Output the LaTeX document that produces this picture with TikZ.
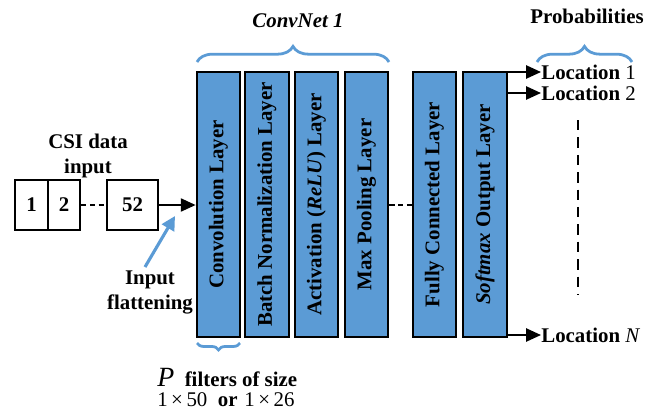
\documentclass[tikz,border=0pt]{standalone}
\usepackage{fontspec}
\setmainfont{Liberation Serif}
\usetikzlibrary{arrows.meta,decorations.pathreplacing}
\definecolor{layerblue}{HTML}{5B9BD5}
\tikzset{
    layer/.style={draw, line width=1.3pt, fill=layerblue, minimum width=25pt,
        minimum height=152.4pt, inner sep=0pt},
    layertext/.style={rotate=90, font=\bfseries\fontsize{12}{14}\selectfont},
    inbox/.style={draw, line width=1.3pt, minimum height=28.7pt, inner sep=0pt,
        font=\bfseries\fontsize{12}{14}\selectfont},
    lbl/.style={font=\bfseries\fontsize{12}{14.4}\selectfont, align=center},
    flow/.style={line width=1.1pt, -{Triangle[length=8.5pt,width=7.5pt]}},
    bluebrace/.style={draw=layerblue, line width=1.6pt, decoration={brace, amplitude=#1}, decorate},
}
\begin{document}
\begin{tikzpicture}[x=0.575pt, y=-0.575pt]
    \useasboundingbox (0,0) rectangle (660,414);

    % CSI input vector
    \node[inbox, minimum width=19pt] (in1) at (31.5,205) {1};
    \node[inbox, minimum width=18.4pt] (in2) at (64,205) {2};
    \node[inbox, minimum width=29.3pt] (in52) at (132.5,205) {52};
    \draw[line width=1.3pt, dash pattern=on 3pt off 2pt] (in2) -- (in52);
    \node[lbl] (csi) at (88,156) {CSI data\\input};

    % ConvNet 1 layers
    \node[layer] (conv) at (218.5,204.5) {};
    \node[layertext] at (conv) {Convolution Layer};
    \node[layer] (bn) at (267,204.5) {};
    \node[layertext] at (bn) {Batch Normalization Layer};
    \node[layer] (act) at (316.5,204.5) {};
    \node[layertext] at (act) {Activation (\textit{ReLU}) Layer};
    \node[layer] (pool) at (366.5,204.5) {};
    \node[layertext] at (pool) {Max Pooling Layer};

    % Classification layers
    \node[layer] (fc) at (434.5,204.5) {};
    \node[layertext] at (fc) {Fully Connected Layer};
    \node[layer] (sm) at (485,204.5) {};
    \node[layertext] at (sm) {\textit{Softmax} Output Layer};

    \draw[flow] (in52) -- (conv.west |- in52);
    \draw[line width=1.3pt, dash pattern=on 3pt off 2pt] (pool.east |- in52) -- (fc.west |- in52);

    % Input flattening
    \node[lbl] (flat) at (150,292) {Input\\flattening};
    \coordinate (flathead) at (175,216);
    \draw[draw=layerblue, line width=1.8pt, -{Triangle[length=8pt,width=8pt]}] (145,267) -- (flathead);

    % Outputs
    \node[lbl, anchor=west, inner sep=0pt] (loc1) at (541,72) {Location \textmd{1}};
    \node[lbl, anchor=west, inner sep=0pt] (loc2) at (541,93) {Location \textmd{2}};
    \node[lbl, anchor=west, inner sep=0pt] (locN) at (541,335) {Location \textmd{\textit{N}}};
    \draw[flow] (sm.east |- loc1) -- (loc1.west);
    \draw[flow] (sm.east |- loc2) -- (loc2.west);
    \draw[flow] (sm.east |- locN) -- (locN.west);
    \draw[line width=1.3pt, dash pattern=on 6pt off 4pt] (578,120) -- (578,295);

    % Braces and titles
    \draw[bluebrace=9pt] (197,62) -- (389,62);
    \node[lbl, font=\bfseries\itshape\fontsize{12}{14}\selectfont] (convnet) at (298,21) {ConvNet 1};
    \draw[bluebrace=9pt] (537,62) -- (632,62);
    \node[lbl] (prob) at (587,16) {Probabilities};
    \draw[bluebrace=4pt] (240,343) -- (197,343);

    % Filter size
    \node[lbl, anchor=west, inner sep=0pt] (filt) at (157,377)
        {{\mdseries\itshape\fontsize{16}{16}\selectfont P}\hspace{6pt}filters of size};
    \node[anchor=west, inner sep=0pt, font=\fontsize{12}{14}\selectfont] (size) at (157,400)
        {1\,×\,50\hspace{6pt}\textbf{or}\hspace{4pt}1\,×\,26};
\end{tikzpicture}
\end{document}
